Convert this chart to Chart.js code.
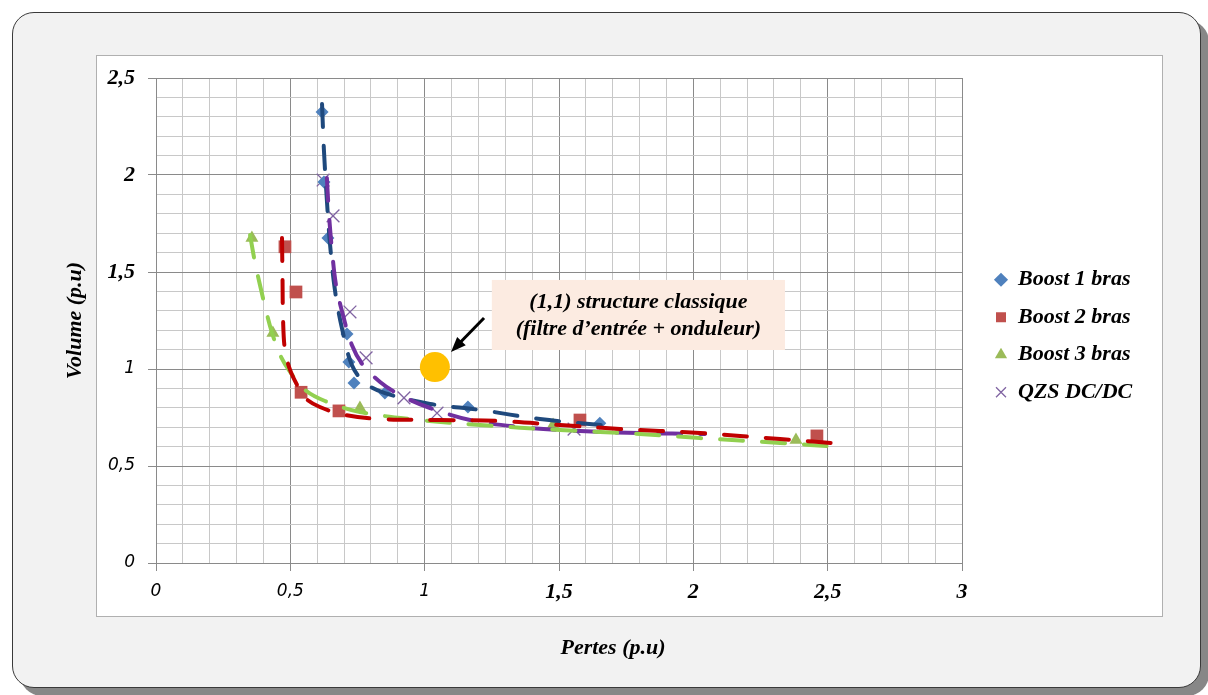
<!DOCTYPE html>
<html>
<head>
<meta charset="utf-8">
<script src="https://cdn.jsdelivr.net/npm/chart.js@4.4.0/dist/chart.umd.min.js"></script>
<style>
  html, body { margin: 0; padding: 0; background: #fff; }
  #wrap { position: relative; width: 1208px; height: 695px; overflow: hidden; }
  .frame {
    position: absolute; left: 12px; top: 12px; width: 1189px; height: 676px;
    box-sizing: border-box; background: #f2f2f2; border: 1.5px solid #3a3a3a;
    border-radius: 22px; box-shadow: 8px 8px 0 #878787;
  }
  .plot {
    position: absolute; left: 96px; top: 55px; width: 1067px; height: 562px;
    box-sizing: border-box; background: #fff; border: 1px solid #b0b0b0;
  }
  canvas { position: absolute; left: 0; top: 0; }
</style>
</head>
<body>
<div id="wrap">
  <div class="frame"></div>
  <div class="plot"></div>
  <canvas id="chart" width="1208" height="695"></canvas>
</div>
<script>
// series names (legend)
const seriesNames = ["Boost 1 bras", "Boost 2 bras", "Boost 3 bras", "QZS DC/DC"];

// measured points
const boost1X = [0.618, 0.625, 0.64, 0.711, 0.718, 0.737, 0.852, 1.161, 1.652];
const boost1Y = [2.325, 1.964, 1.675, 1.18, 1.036, 0.928, 0.876, 0.804, 0.72];
const boost2X = [0.48, 0.521, 0.54, 0.681, 1.578, 2.46];
const boost2Y = [1.63, 1.397, 0.88, 0.784, 0.737, 0.655];
const boost3X = [0.357, 0.435, 0.759, 1.478, 2.382];
const boost3Y = [1.675, 1.186, 0.799, 0.711, 0.634];
const qzsX = [0.622, 0.659, 0.722, 0.782, 0.923, 1.046, 1.556];
const qzsY = [1.974, 1.789, 1.294, 1.057, 0.851, 0.773, 0.69];

// trend curves
const trend1X = [0.618, 0.625, 0.636, 0.648, 0.666, 0.692, 0.729, 0.778, 0.852, 1.02, 1.206, 1.429, 1.697];
const trend1Y = [2.366, 2.129, 1.871, 1.639, 1.407, 1.211, 1.021, 0.928, 0.876, 0.82, 0.789, 0.742, 0.706];
const trend2X = [0.469, 0.471, 0.473, 0.48, 0.499, 0.525, 0.555, 0.61, 0.703, 0.834, 1.057, 1.28, 1.504, 1.727, 2.025, 2.323, 2.568];
const trend2Y = [1.675, 1.459, 1.253, 1.098, 0.995, 0.918, 0.851, 0.804, 0.763, 0.742, 0.737, 0.732, 0.711, 0.691, 0.67, 0.639, 0.613];
const trend3X = [0.35, 0.368, 0.387, 0.409, 0.432, 0.462, 0.499, 0.555, 0.629, 0.759, 0.983, 1.206, 1.504, 1.801, 2.025, 2.323, 2.546];
const trend3Y = [1.691, 1.552, 1.433, 1.304, 1.186, 1.072, 0.985, 0.892, 0.835, 0.778, 0.737, 0.711, 0.686, 0.665, 0.644, 0.619, 0.598];
const trend4X = [0.636, 0.644, 0.655, 0.67, 0.696, 0.729, 0.77, 0.834, 0.908, 1.02, 1.169, 1.355, 1.578, 1.801, 2.043];
const trend4Y = [1.985, 1.794, 1.613, 1.433, 1.278, 1.124, 1.021, 0.933, 0.866, 0.799, 0.737, 0.701, 0.68, 0.67, 0.665];

// reference structure (1,1)
const refX = [1.038];
const refY = [1.01];

// tick labels
const xTickLabels = ["0", "0,5", "1", "1,5", "2", "2,5", "3"];
const yTickLabels = ["0", "0,5", "1", "1,5", "2", "2,5"];
const noteLines = ["(1,1) structure classique", "(filtre d\u2019entr\u00e9e + onduleur)"];
const xTitle = "Pertes (p.u)";
const yTitle = "Volume (p.u)";

let pts = (xs, ys) => xs.map((x, i) => ({ x: x, y: ys[i] }));
let isMajor = (v) => Math.abs(v * 2 - Math.round(v * 2)) < 1e-6;

const serifBold = { family: "Liberation Serif", size: 22, style: "italic", weight: "bold", lineHeight: "24px" };
const sansTick = { family: "DejaVu Sans", size: 17, style: "italic", weight: "normal", lineHeight: "24px" };
let tickFont = (ctx) => {
  let v = ctx.tick ? ctx.tick.value : 0;
  return (Math.abs(v) < 1e-6 || Math.abs(v - 0.5) < 1e-6 || Math.abs(v - 1) < 1e-6) ? sansTick : serifBold;
};

// legend width -> right padding so the plot ends at x = 3
const legendPad = 15.5, legendBox = 12, legendSize = 22;
const gapW = 995 - legendPad - 962;
const mc = document.createElement("canvas").getContext("2d");
mc.font = "italic bold " + legendSize + "px Liberation Serif";
const legendTextW = Math.max(...seriesNames.map((s) => mc.measureText(s).width));
const rightPad = 246 - gapW - (legendPad + legendBox + legendSize / 2 + legendTextW + 10);

let marker = (label, data, style, color, radius, bw) => ({
  label: label,
  data: data,
  showLine: false,
  pointStyle: style,
  pointRadius: radius,
  pointHoverRadius: radius,
  backgroundColor: color,
  borderColor: color,
  borderWidth: bw,
  order: 1,
});
let trend = (data, color) => ({
  label: "trend",
  data: data,
  showLine: true,
  pointRadius: 0,
  borderColor: color,
  borderWidth: 4,
  borderDash: [23, 19],
  borderCapStyle: "round",
  tension: 0.35,
  fill: false,
  order: 0,
});

const notePlugin = {
  id: "note",
  afterDatasetsDraw(chart) {
    const { ctx, scales } = chart;
    const x = scales.x, y = scales.y;
    ctx.save();
    // text box
    let bx0 = x.getPixelForValue(1.25), bx1 = x.getPixelForValue(2.341);
    let by0 = y.getPixelForValue(1.459), by1 = y.getPixelForValue(1.098);
    ctx.fillStyle = "#fcebe1";
    ctx.fillRect(bx0, by0, bx1 - bx0, by1 - by0);
    ctx.fillStyle = "#000";
    ctx.font = "italic bold 22px Liberation Serif";
    ctx.textAlign = "center";
    ctx.textBaseline = "middle";
    ctx.fillText(noteLines[0], (bx0 + bx1) / 2, by0 + 22);
    ctx.fillText(noteLines[1], (bx0 + bx1) / 2, by0 + 49);
    // arrow
    let ax0 = x.getPixelForValue(1.221), ay0 = y.getPixelForValue(1.263);
    let ax1 = x.getPixelForValue(1.098), ay1 = y.getPixelForValue(1.088);
    let ang = Math.atan2(ay1 - ay0, ax1 - ax0);
    ctx.strokeStyle = "#000";
    ctx.lineWidth = 3;
    ctx.beginPath();
    ctx.moveTo(ax0, ay0);
    ctx.lineTo(ax1 - 10 * Math.cos(ang), ay1 - 10 * Math.sin(ang));
    ctx.stroke();
    ctx.beginPath();
    ctx.moveTo(ax1, ay1);
    ctx.lineTo(ax1 - 15 * Math.cos(ang) + 6 * Math.sin(ang), ay1 - 15 * Math.sin(ang) - 6 * Math.cos(ang));
    ctx.lineTo(ax1 - 15 * Math.cos(ang) - 6 * Math.sin(ang), ay1 - 15 * Math.sin(ang) + 6 * Math.cos(ang));
    ctx.closePath();
    ctx.fill();
    // x axis title
    ctx.font = "italic bold 22px Liberation Serif";
    ctx.fillText(xTitle, x.getPixelForValue(1.701), chart.chartArea.bottom + 85);
    ctx.restore();
  },
};

new Chart(document.getElementById("chart"), {
  type: "scatter",
  data: {
    datasets: [
      marker(seriesNames[0], pts(boost1X, boost1Y), "rectRot", "#4f81bd", 6.5, 0),
      marker(seriesNames[1], pts(boost2X, boost2Y), "rect", "#c0504d", 9, 0),
      marker(seriesNames[2], pts(boost3X, boost3Y), "triangle", "#9bbb59", 7.5, 0),
      marker(seriesNames[3], pts(qzsX, qzsY), "crossRot", "#8064a2", 9, 1.3),
      trend(pts(trend2X, trend2Y), "#c00000"),
      trend(pts(trend3X, trend3Y), "#92d050"),
      trend(pts(trend4X, trend4Y), "#7030a0"),
      trend(pts(trend1X, trend1Y), "#1f497d"),
      {
        label: "ref",
        data: pts(refX, refY),
        pointStyle: "circle",
        pointRadius: 15,
        backgroundColor: "#ffc000",
        borderWidth: 0,
        order: 0,
      },
    ],
  },
  options: {
    responsive: false,
    animation: false,
    devicePixelRatio: 1,
    layout: { padding: { left: 60, top: 78, right: rightPad, bottom: 30 } },
    plugins: {
      tooltip: { enabled: false },
      legend: {
        position: "right",
        fullSize: false,
        align: "center",
        title: { display: true, text: " ", font: { size: 10, lineHeight: "10px" }, padding: { top: 21, bottom: 0 } },
        labels: {
          usePointStyle: true,
          boxWidth: legendBox,
          boxHeight: 10,
          padding: legendPad,
          color: "#000",
          font: { family: "Liberation Serif", size: legendSize, style: "italic", weight: "bold" },
          filter: (item) => item.datasetIndex < 4,
        },
      },
    },
    scales: {
      x: {
        type: "linear",
        min: 0,
        max: 3,
        afterFit: (s) => { s.height = 102; },
        ticks: {
          stepSize: 0.1,
          autoSkip: false,
          maxRotation: 0,
          padding: 9,
          color: "#000",
          font: tickFont,
          callback: (v) => (isMajor(v) ? xTickLabels[Math.round(v * 2)] : ""),
        },
        grid: {
          color: (ctx) => (isMajor(ctx.tick.value) ? "#8a8a8a" : "#c8c8c8"),
          tickColor: (ctx) => (isMajor(ctx.tick.value) ? "#8a8a8a" : "rgba(0,0,0,0)"),
          tickLength: 8,
        },
        border: { color: "#8a8a8a" },
      },
      y: {
        type: "linear",
        min: 0,
        max: 2.5,
        afterFit: (s) => { s.width = 96; },
        title: {
          display: true,
          text: yTitle,
          color: "#000",
          padding: { top: 2, bottom: 0 },
          font: { family: "Liberation Serif", size: 22, style: "italic", weight: "bold" },
        },
        ticks: {
          stepSize: 0.1,
          autoSkip: false,
          padding: 13,
          color: "#000",
          font: tickFont,
          callback: (v) => (isMajor(v) ? yTickLabels[Math.round(v * 2)] : ""),
        },
        grid: {
          color: (ctx) => (isMajor(ctx.tick.value) ? "#8a8a8a" : "#c8c8c8"),
          tickColor: (ctx) => (isMajor(ctx.tick.value) ? "#8a8a8a" : "rgba(0,0,0,0)"),
          tickLength: 8,
        },
        border: { color: "#8a8a8a" },
      },
      y2: {
        type: "linear",
        position: "right",
        display: true,
        afterFit: (s) => { s.width = gapW; },
        ticks: { display: false },
        grid: { display: false, drawTicks: false },
        border: { display: false },
      },
    },
  },
  plugins: [notePlugin],
});
</script>
</body>
</html>
